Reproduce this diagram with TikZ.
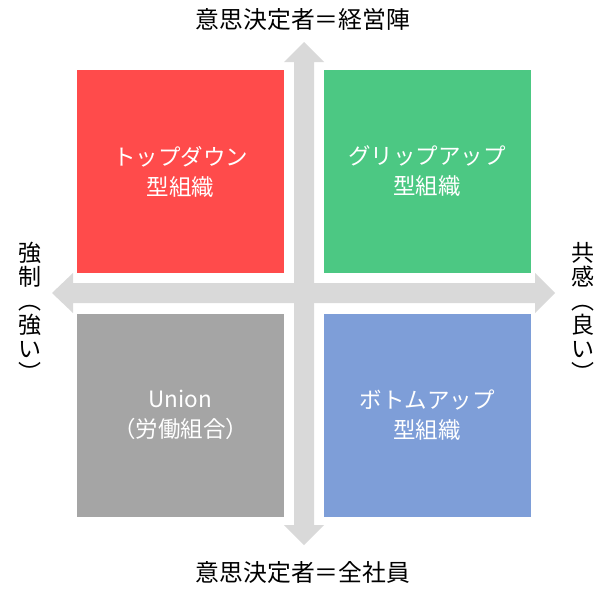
\documentclass[tikz,border=0pt]{standalone}
\usepackage{fontspec}
\setmainfont{Noto Sans CJK JP}
\definecolor{qred}{HTML}{FF4B4B}
\definecolor{qgreen}{HTML}{4CC883}
\definecolor{qgrey}{HTML}{A5A5A5}
\definecolor{qblue}{HTML}{7E9ED8}
\definecolor{arrowgrey}{HTML}{D9D9D9}
\tikzset{
  quad/.style={minimum width=207pt, minimum height=203pt, inner sep=0pt, text=white, align=center, font=\fontsize{22.5}{30}\selectfont},
  axislabel/.style={inner sep=0pt, font=\fontsize{23.8}{24}\selectfont, text=black},
  vlabel/.style={inner sep=0pt, align=center, font=\fontsize{23}{24}\selectfont, text=black},
}
\begin{document}
\begin{tikzpicture}[x=1pt,y=-1pt]
\useasboundingbox (0,0) rectangle (604,605);
% cross arrows
\fill[arrowgrey] (304,42) -- (324,62) -- (314,62) -- (314,525) -- (324,525) -- (304,545) -- (284,525) -- (294,525) -- (294,62) -- (284,62) -- cycle;
\fill[arrowgrey] (52,293) -- (73,273) -- (73,283) -- (535,283) -- (535,273) -- (555,293) -- (535,313) -- (535,303) -- (73,303) -- (73,313) -- cycle;
% quadrants
\node[quad, fill=qred] (topdown) at (180.5,171.5) {トップダウン\\型組織};
\node[quad, fill=qgreen] (grip) at (427,171.5) {グリップアップ\\型組織};
\node[quad, fill=qgrey] (union) at (180.5,415) {Union\\（労働組合）};
\node[quad, fill=qblue] (bottomup) at (427,415) {ボトムアップ\\型組織};
% axis labels
\node[axislabel] (toplabel) at (303,19) {意思決定者＝経営陣};
\node[axislabel] (bottomlabel) at (303,572) {意思決定者＝全社員};
\node[vlabel, anchor=north] (leftlabel) at (30,242) {強\\制\\︵\\強\\い\\︶};
\node[vlabel, anchor=north] (rightlabel) at (583,242) {共\\感\\︵\\良\\い\\︶};
\end{tikzpicture}
\end{document}
